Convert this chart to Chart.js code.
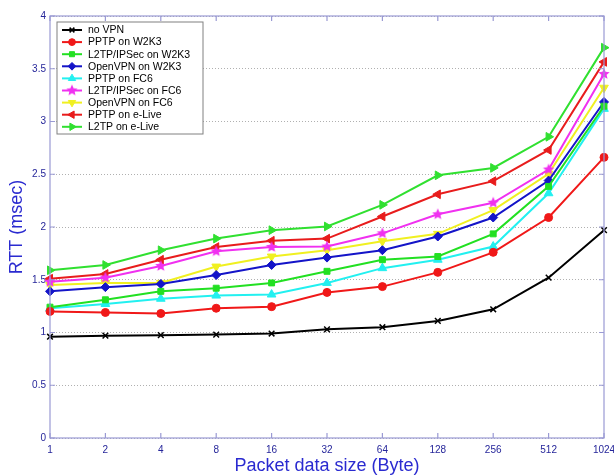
<!DOCTYPE html>
<html>
<head>
<meta charset="utf-8">
<title>RTT vs packet size</title>
<script src="https://cdn.jsdelivr.net/npm/chart.js@4/dist/chart.umd.min.js"></script>
<style>
    html, body { margin: 0; padding: 0; background: #fff; }
    #grafica { display: block; }
</style>
</head>
<body>
<canvas id="grafica" width="614" height="475"></canvas>
<script>
// ---------------- datos ----------------
const tamanos = ["1", "2", "4", "8", "16", "32", "64", "128", "256", "512", "1024"];
const ticksY = ["0", "0.5", "1", "1.5", "2", "2.5", "3", "3.5", "4"];

const nombres = [
    "no VPN", "PPTP on W2K3", "L2TP/IPSec on W2K3", "OpenVPN on W2K3",
    "PPTP on FC6", "L2TP/IPSec on FC6", "OpenVPN on FC6",
    "PPTP on e-Live", "L2TP on e-Live"
];

const noVPN    = [0.96, 0.97, 0.975, 0.98, 0.99, 1.03, 1.05, 1.11, 1.22, 1.52, 1.97];
const pptpW2K3 = [1.20, 1.19, 1.18, 1.23, 1.245, 1.38, 1.435, 1.57, 1.76, 2.09, 2.66];
const l2tpW2K3 = [1.24, 1.31, 1.39, 1.42, 1.47, 1.58, 1.69, 1.72, 1.935, 2.385, 3.145];
const openW2K3 = [1.39, 1.43, 1.46, 1.545, 1.64, 1.71, 1.78, 1.91, 2.09, 2.44, 3.185];
const pptpFC6  = [1.23, 1.27, 1.32, 1.35, 1.36, 1.47, 1.61, 1.69, 1.815, 2.32, 3.12];
const l2tpFC6  = [1.48, 1.52, 1.63, 1.77, 1.81, 1.815, 1.94, 2.12, 2.23, 2.545, 3.45];
const openFC6  = [1.45, 1.47, 1.47, 1.625, 1.72, 1.78, 1.865, 1.935, 2.16, 2.505, 3.32];
const pptpLive = [1.51, 1.555, 1.69, 1.81, 1.87, 1.89, 2.10, 2.31, 2.435, 2.73, 3.565];
const l2tpLive = [1.59, 1.64, 1.78, 1.89, 1.97, 2.005, 2.21, 2.49, 2.56, 2.855, 3.70];

const series = [noVPN, pptpW2K3, l2tpW2K3, openW2K3, pptpFC6, l2tpFC6, openFC6, pptpLive, l2tpLive];

// ---------------- estilos ----------------
const FUENTE = "'Liberation Sans', Arial, Helvetica, sans-serif";
const AZUL_TXT = "#26269a";

// estrella (pentagrama) para L2TP/IPSec on FC6
function crearEstrella(color, r) {
    const c = document.createElement("canvas");
    const s = Math.ceil(r * 2 + 2);
    c.width = s; c.height = s;
    const ctx = c.getContext("2d");
    ctx.fillStyle = color;
    ctx.beginPath();
    for (let i = 0; i < 10; i++) {
        const rr = i % 2 === 0 ? r : r * 0.45;
        const a = -Math.PI / 2 + i * Math.PI / 5;
        const px = s / 2 + rr * Math.cos(a), py = s / 2 + rr * Math.sin(a);
        if (i === 0) ctx.moveTo(px, py); else ctx.lineTo(px, py);
    }
    ctx.closePath();
    ctx.fill();
    return c;
}

const estilos = [
    { color: "#000000", punto: "crossRot", rot: 0, radio: 4, borde: 1.5 },
    { color: "#f01818", punto: "circle", rot: 0, radio: 4, borde: 1 },
    { color: "#22e022", punto: "rect", rot: 0, radio: 4.2, borde: 1 },
    { color: "#1414c8", punto: "rectRot", rot: 0, radio: 4.5, borde: 1 },
    { color: "#22f0f0", punto: "triangle", rot: 0, radio: 5, borde: 1 },
    { color: "#f030f0", punto: crearEstrella("#f030f0", 6), rot: 0, radio: 6, borde: 0 },
    { color: "#f0f020", punto: "triangle", rot: 180, radio: 5, borde: 1 },
    { color: "#e81c1c", punto: "triangle", rot: 270, radio: 5, borde: 1 },
    { color: "#30e030", punto: "triangle", rot: 90, radio: 5, borde: 1 }
];

// ---------------- plugins ----------------
// marco del área + marcas de ticks hacia dentro (estilo MATLAB)
const marco = {
    id: "marco",
    afterDatasetsDraw(chart) {
        const { ctx, chartArea: a, scales } = chart;
        ctx.save();
        ctx.strokeStyle = "#9a9ad4";
        ctx.lineWidth = 1.2;
        ctx.strokeRect(a.left, a.top, a.right - a.left, a.bottom - a.top);
        ctx.beginPath();
        scales.x.ticks.forEach((t, i) => {
            const px = scales.x.getPixelForTick(i);
            ctx.moveTo(px, a.bottom); ctx.lineTo(px, a.bottom - 5);
            ctx.moveTo(px, a.top); ctx.lineTo(px, a.top + 5);
        });
        scales.y.ticks.forEach((t, i) => {
            const py = scales.y.getPixelForTick(i);
            ctx.moveTo(a.left, py); ctx.lineTo(a.left + 5, py);
            ctx.moveTo(a.right, py); ctx.lineTo(a.right - 5, py);
        });
        ctx.stroke();
        ctx.restore();
    }
};

// leyenda dentro del gráfico, arriba a la izquierda
const leyenda = {
    id: "leyenda",
    afterDraw(chart) {
        const ctx = chart.ctx;
        const x0 = 57, y0 = 22, w = 146, h = 112, paso = 12.1;
        ctx.save();
        ctx.fillStyle = "#fff";
        ctx.fillRect(x0, y0, w, h);
        ctx.strokeStyle = "#808080";
        ctx.lineWidth = 1;
        ctx.strokeRect(x0, y0, w, h);
        ctx.font = "10.5px " + FUENTE;
        ctx.textBaseline = "middle";
        chart.data.datasets.forEach((ds, i) => {
            const y = y0 + 8 + i * paso;
            ctx.strokeStyle = ds.borderColor;
            ctx.lineWidth = 2;
            ctx.beginPath();
            ctx.moveTo(x0 + 5, y); ctx.lineTo(x0 + 25, y);
            ctx.stroke();
            ctx.fillStyle = ds.pointBackgroundColor;
            ctx.strokeStyle = ds.pointBorderColor;
            ctx.lineWidth = ds.pointBorderWidth;
            Chart.helpers.drawPoint(ctx, {
                pointStyle: ds.pointStyle,
                rotation: ds.pointRotation,
                radius: ds.pointRadius * 0.85,
                borderWidth: ds.pointBorderWidth
            }, x0 + 15, y);
            ctx.fillStyle = "#000";
            ctx.fillText(ds.label, x0 + 31, y + 0.5);
        });
        ctx.restore();
    }
};

// ---------------- gráfica ----------------
const datasets = series.map((valores, i) => ({
    label: nombres[i],
    data: valores,
    borderColor: estilos[i].color,
    backgroundColor: estilos[i].color,
    borderWidth: 2,
    pointStyle: estilos[i].punto,
    pointRotation: estilos[i].rot,
    pointRadius: estilos[i].radio,
    pointBackgroundColor: estilos[i].color,
    pointBorderColor: estilos[i].color,
    pointBorderWidth: estilos[i].borde,
    tension: 0,
    fill: false
}));

const ctx = document.getElementById("grafica").getContext("2d");
new Chart(ctx, {
    type: "line",
    data: { labels: tamanos, datasets },
    options: {
        responsive: false,
        animation: false,
        layout: { padding: { top: 16, right: 10, left: 0, bottom: 0 } },
        plugins: {
            legend: { display: false },
            tooltip: { enabled: false }
        },
        scales: {
            x: {
                offset: false,
                grid: { display: false, drawTicks: false },
                border: { display: false },
                ticks: {
                    color: AZUL_TXT,
                    font: { family: FUENTE, size: 10 },
                    padding: 6,
                    maxRotation: 0,
                    autoSkip: false
                },
                title: {
                    display: true,
                    text: "Packet data size (Byte)",
                    color: "#2a2ad0",
                    font: { family: FUENTE, size: 18, lineHeight: 1 },
                    padding: { top: 0, bottom: 0 }
                },
                afterFit(scale) {
                    scale.height = 37;
                    scale.paddingLeft = 0;
                    scale.paddingRight = 0;
                }
            },
            y: {
                min: 0,
                max: 4,
                grid: { color: "#b0b0b0", lineWidth: 1, drawTicks: false },
                border: { display: false, dash: [1, 2] },
                ticks: {
                    stepSize: 0.5,
                    color: AZUL_TXT,
                    font: { family: FUENTE, size: 10 },
                    padding: 4,
                    callback: (v, i) => ticksY[i]
                },
                title: {
                    display: true,
                    text: "RTT (msec)",
                    color: "#2a2ad0",
                    font: { family: FUENTE, size: 18, lineHeight: 1.2 },
                    padding: { top: 6, bottom: 0 }
                },
                afterFit(scale) { scale.width = 50; }
            }
        }
    },
    plugins: [marco, leyenda]
});
</script>
</body>
</html>
